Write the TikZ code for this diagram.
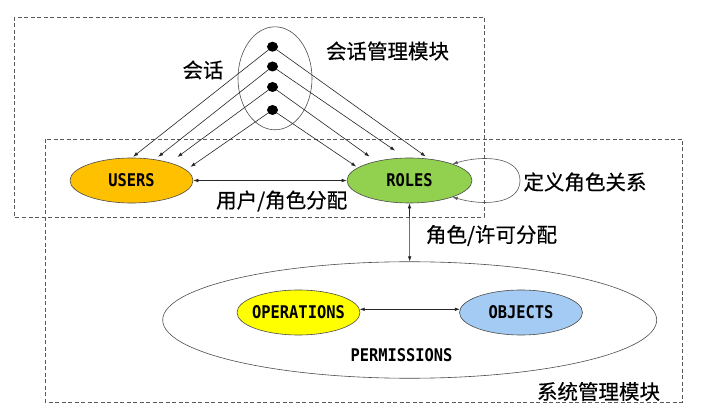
\documentclass[tikz,border=0pt]{standalone}
\usepackage{fontspec}
\usetikzlibrary{arrows.meta,shapes.geometric}
\newfontfamily\cjk[FakeBold=0.4]{Noto Sans CJK SC}
\newfontfamily\labfont[FakeStretch=0.88]{DejaVu Sans Mono}
\definecolor{usersfill}{HTML}{FFC000}
\definecolor{rolesfill}{HTML}{92D050}
\definecolor{opsfill}{HTML}{FFFF00}
\definecolor{objfill}{HTML}{A3CBF4}
\begin{document}
\begin{tikzpicture}[x=1pt,y=-1pt,
  box/.style={draw=black!65, dash pattern=on 4pt off 2.5pt, line width=0.8pt},
  ent/.style={ellipse, draw=black!70, line width=0.6pt, inner sep=0pt,
    minimum width=123pt, minimum height=45pt,
    font=\labfont\bfseries\fontsize{17.5}{18}\selectfont},
  dotnode/.style={ellipse, fill=black, inner sep=0pt, minimum width=11pt, minimum height=10pt},
  conn/.style={line width=0.6pt, black!85, -{Latex[length=5pt,width=3.6pt]}},
  biconn/.style={line width=0.6pt, black!85, {Latex[length=5pt,width=3.6pt]}-{Latex[length=5pt,width=3.6pt]}},
  lbl/.style={font=\cjk\fontsize{20.5}{22}\selectfont, inner sep=0pt},
  plain/.style={font=\labfont\bfseries\fontsize{17.5}{18}\selectfont, inner sep=0pt}
]
\useasboundingbox (0,0) rectangle (712,411);
\fill[white] (0,0) rectangle (712,411);

% dashed module boxes
\draw[box] (14,17) rectangle (484,217);
\draw[box] (45,139) rectangle (682,402);

% session ellipse and dots
\node[ellipse, draw=black!70, line width=0.6pt, inner sep=0pt,
  minimum width=74pt, minimum height=103pt] (sess) at (275,78.3) {};
\node[dotnode] (d1) at (272.5,46.7) {};
\node[dotnode] (d2) at (272.5,66.5) {};
\node[dotnode] (d3) at (272.5,87) {};
\node[dotnode] (d4) at (272.5,110) {};

% entities
\node[ent, fill=usersfill] (users) at (131.5,180.5) {\makebox[0pt]{USERS}};
\node[ent, fill=rolesfill, minimum width=125pt] (roles) at (409.5,180.5) {\makebox[0pt]{ROLES}};
\node[ellipse, draw=black!70, line width=0.6pt, fill=white, inner sep=0pt,
  minimum width=494pt, minimum height=116.5pt] (perm) at (409.7,320) {};
\node[ent, fill=opsfill] (ops) at (298.5,312.5) {\makebox[0pt]{OPERATIONS}};
\node[ent, fill=objfill] (obj) at (521,312.5) {\makebox[0pt]{OBJECTS}};
\node[plain] (permtext) at (401.5,355.5) {PERMISSIONS};

% session connectors
\draw[conn, shorten >=1.6pt] (d1) -- (users.89);
\draw[conn, shorten >=4.2pt] (d2) -- (users.42);
\draw[conn, shorten >=9.5pt] (d3) -- (users.25);
\draw[conn, shorten >=5.2pt] (d4) -- (users.11);
\draw[conn, shorten >=4.1pt] (d1) -- (roles.48.7);
\draw[conn, shorten >=12.6pt] (d2) -- (roles.100.6);
\draw[conn, shorten >=8pt] (d3) -- (roles.150);
\draw[conn, shorten >=1.8pt] (d4) -- (roles.166);

% other connectors
\draw[biconn] (users.east) -- (roles.west);
\draw[biconn] (roles.south) -- (perm.north);
\draw[biconn] (ops.3) -- (obj.177);
\coordinate (loopr) at (520,180.5);
\draw[biconn, black!65] (roles.21) .. controls +(30,-9) and +(0,-24) .. (loopr)
  .. controls +(0,24) and +(30,9) .. (roles.-21);

% labels
\node[lbl] (lsess) at (203,70) {会话};
\node[lbl] (lsessmod) at (387.5,51) {会话管理模块};
\node[lbl] (lua) at (281.7,201) {用户/角色分配};
\node[lbl] (lrh) at (585,182) {定义角色关系};
\node[lbl] (lpa) at (491.5,235.5) {角色/许可分配};
\node[lbl] (lsysmod) at (598.5,391.5) {系统管理模块};
\end{tikzpicture}
\end{document}
